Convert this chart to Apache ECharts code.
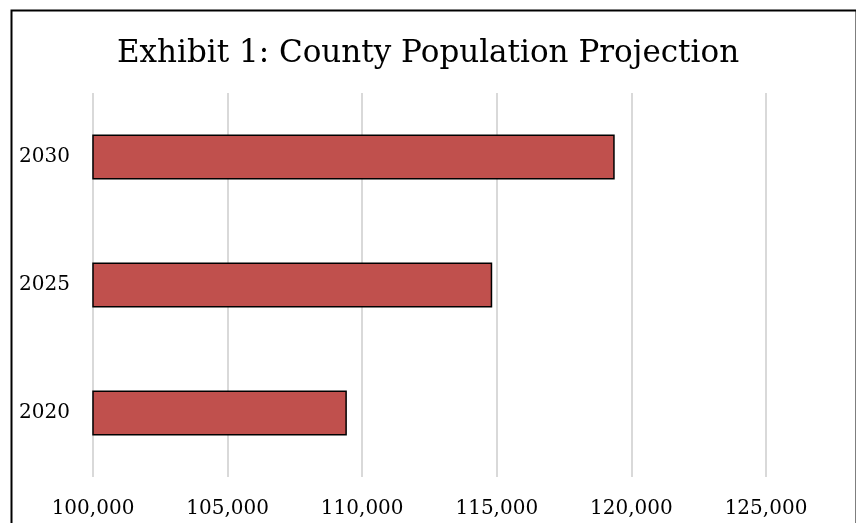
<!DOCTYPE html>
<html><head><meta charset="utf-8">
<script src="https://cdn.jsdelivr.net/npm/echarts@6/dist/echarts.min.js"></script>
<style>html,body{margin:0;padding:0;background:#fff}#c{width:856px;height:523px}</style>
</head><body><div id="c"></div>
<script>
const titleText = 'Exhibit 1: County Population Projection';
const categories = ['2020', '2025', '2030'];
const populationValues = [109430, 114830, 119380];
const xTicks = [100000, 105000, 110000, 115000, 120000, 125000];

const FONT = 'DejaVu Serif';
const chart = echarts.init(document.getElementById('c'), null, {renderer: 'canvas'});
chart.setOption({
  animation: false,
  backgroundColor: '#fff',
  title: {
    text: titleText, left: 'center', top: 33,
    textStyle: {fontFamily: FONT, fontSize: 31, fontWeight: 'normal', color: '#000'}
  },
  graphic: [{
    type: 'rect', left: 9, top: 8, silent: true,
    shape: {width: 845, height: 530},
    style: {fill: 'none', stroke: '#000', lineWidth: 2}
  }],
  grid: {left: 93, right: 90, top: 93, bottom: 46, containLabel: false},
  xAxis: {
    type: 'value', min: xTicks[0], max: xTicks[xTicks.length - 1], interval: 5000,
    axisLine: {show: false}, axisTick: {show: false},
    splitLine: {lineStyle: {color: '#d9d9d9', width: 2}},
    axisLabel: {
      fontFamily: FONT, fontSize: 20, color: '#000', margin: 22,
      formatter: v => v.toLocaleString('en-US')
    }
  },
  yAxis: {
    type: 'category', data: categories,
    axisLine: {show: false}, axisTick: {show: false},
    axisLabel: {fontFamily: FONT, fontSize: 20, color: '#000', margin: 23}
  },
  series: [{
    type: 'bar', data: populationValues, barWidth: 45,
    itemStyle: {color: '#C0504D', borderColor: '#000', borderWidth: 1.5}
  }]
});
</script></body></html>
